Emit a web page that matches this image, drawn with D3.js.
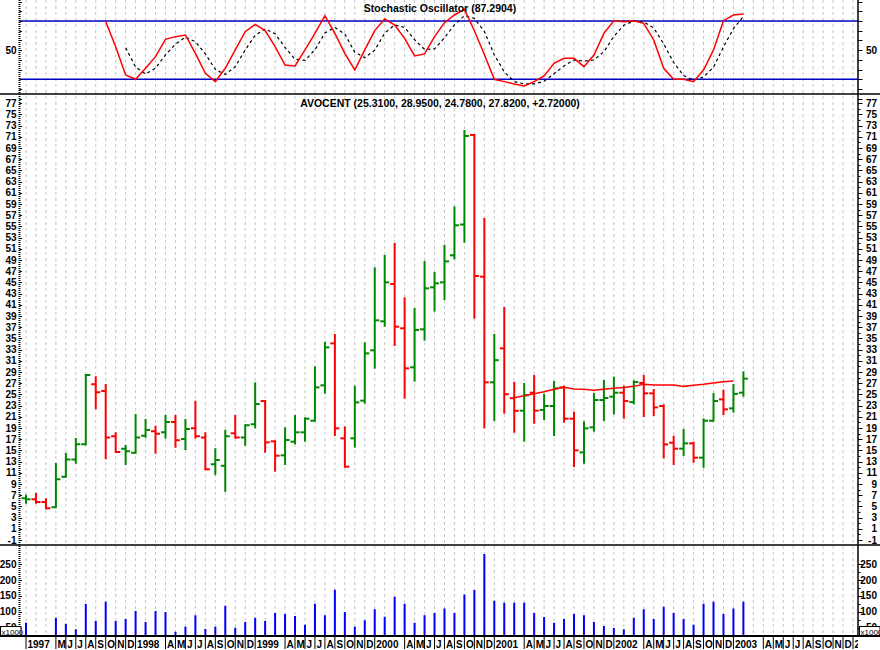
<!DOCTYPE html>
<html>
<head>
<meta charset="utf-8">
<script src="https://cdn.jsdelivr.net/npm/d3@7"></script>
<style>
	body { margin: 0; background: #fff; }
	text { font-family: "Liberation Sans", Arial, sans-serif; font-weight: bold; fill: #000; }
</style>
</head>
<body>
<svg width="880" height="650"></svg>
<script>
// monthly bars, Feb 1997 .. Feb 2003
var firstMonth = new Date(1997, 1, 1);
var monthCount = 84; // axis runs on to Jan 2004
var monthLetters = ["J", "F", "M", "A", "M", "J", "J", "A", "S", "O", "N", "D"];

var open = [6.44, 6.26, 5.78, 4.83, 10.31, 13.40, 16.08, 26.80, 25.61, 17.51, 15.31, 14.59, 17.63, 18.41, 18.23, 20.07, 17.04, 18.94, 17.33, 12.51,
	12.27, 18.05, 17.33, 19.66, 23.82, 16.62, 14.12, 16.56, 18.23, 20.31, 26.62, 34.12, 17.16, 17.16, 23.89, 32.88, 38.06, 44.73, 36.81, 29.84,
	36.63, 44.13, 45.02, 49.84, 55.37, 71.33, 46.03, 27.16, 33.23, 24.33, 22.10, 25.31, 22.22, 22.93, 26.26, 20.67, 14.65, 19.12, 24.00, 24.60,
	25.31, 23.64, 27.04, 25.19, 22.93, 16.38, 15.31, 16.26, 13.70, 20.31, 24.12, 22.51, 25.31];
var high = [6.92, 7.21, 6.26, 12.57, 14.36, 17.04, 28.47, 28.05, 26.68, 18.05, 15.79, 21.32, 20.43, 19.24, 21.14, 21.14, 20.43, 23.70, 18.05, 15.19,
	18.52, 21.14, 19.48, 26.98, 23.82, 16.62, 18.94, 21.14, 20.73, 29.84, 34.24, 35.61, 19.12, 26.38, 34.13, 47.52, 49.73, 51.87, 42.17, 40.26,
	48.65, 46.69, 51.54, 58.41, 72.04, 71.33, 56.33, 35.61, 40.43, 27.07, 26.86, 28.29, 24.95, 27.22, 26.38, 21.74, 20.01, 25.07, 27.40, 27.99,
	26.38, 27.34, 28.29, 25.79, 23.05, 17.45, 18.64, 16.38, 20.55, 25.07, 25.67, 26.68, 28.95];
var low = [5.67, 5.67, 4.65, 4.83, 10.31, 12.81, 16.08, 22.51, 13.58, 14.71, 12.57, 14.59, 17.45, 14.59, 17.33, 15.67, 15.25, 17.33, 11.62, 10.78,
	7.81, 17.33, 16.02, 19.12, 14.77, 11.38, 12.57, 16.26, 16.74, 20.31, 25.31, 17.75, 12.09, 15.67, 23.53, 29.78, 37.28, 33.83, 24.42, 27.46,
	34.78, 39.96, 42.05, 49.30, 52.28, 38.71, 19.12, 20.43, 21.74, 18.35, 16.74, 19.95, 20.61, 17.75, 20.13, 12.21, 12.81, 18.52, 20.43, 21.62,
	20.85, 23.41, 21.14, 21.32, 13.76, 12.57, 14.18, 12.99, 12.09, 20.31, 21.50, 21.92, 24.78];
var close = [6.26, 5.78, 4.65, 9.83, 13.40, 16.08, 28.47, 25.37, 17.33, 14.71, 14.83, 17.33, 18.64, 17.99, 20.07, 16.80, 18.82, 17.51, 11.62, 13.29,
	17.51, 17.33, 19.48, 23.29, 16.44, 14.06, 16.86, 18.23, 20.67, 26.26, 33.41, 18.94, 12.09, 23.58, 32.34, 38.24, 45.02, 37.10, 29.66, 36.51,
	43.95, 44.84, 48.77, 55.20, 71.15, 46.15, 27.16, 31.12, 25.04, 22.07, 24.85, 22.10, 22.93, 26.09, 20.67, 15.01, 18.94, 24.00, 24.36, 25.31,
	23.82, 27.22, 25.19, 22.69, 16.08, 15.31, 16.26, 13.70, 20.31, 23.82, 22.34, 25.10, 27.82];
var volume = [65.5, 15, 18, 81.2, 62.3, 44.5, 124.2, 70.8, 131.6, 70.8, 77.1, 102.2, 67.6, 102.2, 99.1, 37.2, 52.9, 88.6, 45.5, 52.9,
	119.0, 49.8, 67.6, 81.2, 70.8, 95.9, 92.8, 86.5, 59.1, 125.3, 88.6, 169.2, 99.1, 52.9, 73.4, 107.9, 83.9, 147.2, 125.3, 65.5,
	88.6, 95.9, 110.0, 95.9, 154.2, 167.9, 281.2, 134.3, 128.1, 128.1, 128.1, 95.9, 83.4, 65.5, 77.1, 92.8, 88.6, 67.6, 54.9, 48.7,
	44.5, 81.1, 107.9, 77.1, 115.5, 95.9, 77.1, 59.1, 125.3, 131.6, 92.8, 110.0, 131.6];

// moving average, drawn from Mar 2001 (bar 49)
var maStart = 49;
var maValues = [24.42, 24.78, 25.13, 25.49, 25.91, 26.26, 25.97, 25.91, 25.73, 25.91, 26.09, 26.26, 26.44, 26.80, 26.68, 26.68, 26.68, 26.44,
	26.62, 26.80, 27.04, 27.28, 27.40];

// stochastic %K from bar 8, %D from bar 10
var kStart = 8;
var stochK = [79.5, 53.6, 24.5, 20.0, 31.3, 43.3, 61.1, 63.9, 65.6, 46.7, 26.2, 17.6, 31.3, 50.2, 69.0, 76.6, 70.1, 53.6, 34.7, 33.7,
	50.2, 67.3, 85.5, 67.3, 46.7, 29.6, 50.2, 70.1, 82.1, 75.9, 62.2, 44.0, 46.1, 63.9, 78.3, 86.2, 92.0, 70.0, 45.5, 20.0,
	17.6, 15.2, 13.1, 17.6, 23.4, 36.5, 41.6, 41.6, 33.0, 45.0, 67.3, 80.3, 79.3, 80.3, 77.6, 60.5, 31.3, 20.0, 20.0, 17.6,
	29.6, 50.2, 80.3, 86.2, 87.29];
var dStart = 10;
var stochD = [52.5, 32.7, 25.3, 31.5, 45.2, 56.1, 63.5, 58.7, 46.2, 30.2, 25.0, 33.0, 50.2, 65.3, 71.9, 66.8, 52.8, 40.7, 39.5, 50.4,
	67.7, 73.4, 66.5, 47.9, 42.2, 50.0, 67.5, 76.0, 73.4, 60.7, 50.8, 51.3, 62.8, 76.1, 85.5, 82.7, 69.2, 45.2, 27.7, 17.6,
	15.3, 15.3, 18.0, 25.8, 33.8, 39.9, 38.7, 39.9, 48.4, 64.2, 75.6, 80.0, 79.1, 72.8, 56.5, 37.3, 23.8, 19.2, 22.4, 32.5,
	53.4, 72.2, 84.6];

var priceTicks = d3.range(-1, 78, 2);
var volTicks = [50, 100, 150, 200, 250];
var stochTicks = d3.range(0, 101, 10);
var stochLevels = [20, 80];

var stochTitle = "Stochastic Oscillator (87.2904)";
var priceTitle = "AVOCENT (25.3100, 28.9500, 24.7800, 27.8200, +2.72000)";

var svg = d3.select("svg"),
    width = +svg.attr("width"),
    axisL = 19.5,
    axisR = 858,
    top1 = 0, bot1 = 94,
    bot2 = 545,
    bot3 = 636;

var green = "#008800", red = "#ff0000";

var x = d3.scalePoint().domain(d3.range(monthCount)).range([26, 853]);
var yStoch = d3.scaleLinear().domain([20, 80]).range([79.3, 21]);
var yPrice = d3.scaleLinear().domain([-1, 77]).range([540, 103.3]);
var yVol = d3.scaleLinear().domain([0, 250]).range([643.5, 564]);

var defs = svg.append("defs");
function clip(id, y0, y1) {
	defs.append("clipPath").attr("id", id)
		.append("rect").attr("x", axisL + 1).attr("y", y0).attr("width", axisR - axisL - 1).attr("height", y1 - y0);
	return "url(#" + id + ")";
}
var clipStoch = clip("c1", top1, bot1),
    clipPrice = clip("c2", bot1, bot2),
    clipVol = clip("c3", bot2, bot3);

// grid
svg.append("g")
	.selectAll("line")
	.data(d3.range(monthCount))
	.enter().append("line")
	.attr("x1", function(d) { return x(d); })
	.attr("x2", function(d) { return x(d); })
	.attr("y1", 0)
	.attr("y2", bot3)
	.attr("stroke", "#c4c4c4")
	.attr("stroke-dasharray", "3,3");

// stochastic panel
var gS = svg.append("g").attr("clip-path", clipStoch);
gS.selectAll("line.level")
	.data(stochLevels)
	.enter().append("line")
	.attr("class", "level")
	.attr("x1", axisL).attr("x2", axisR)
	.attr("y1", function(d) { return yStoch(d); })
	.attr("y2", function(d) { return yStoch(d); })
	.attr("stroke", "#0000c8")
	.attr("stroke-width", 1.5);

gS.append("path")
	.datum(stochD)
	.attr("fill", "none")
	.attr("stroke", "#000")
	.attr("stroke-width", 1.2)
	.attr("stroke-dasharray", "3,3")
	.attr("d", d3.line()
		.x(function(d, i) { return x(i + dStart); })
		.y(function(d) { return yStoch(d); }));

gS.append("path")
	.datum(stochK)
	.attr("fill", "none")
	.attr("stroke", red)
	.attr("stroke-width", 1.5)
	.attr("d", d3.line()
		.x(function(d, i) { return x(i + kStart); })
		.y(function(d) { return yStoch(d); }));

// price panel
var gP = svg.append("g").attr("clip-path", clipPrice);
var bars = gP.selectAll("g.bar")
	.data(close.map(function(c, i) {
		return {i: i, o: open[i], h: high[i], l: low[i], c: c, up: i === 0 || c >= close[i - 1]};
	}))
	.enter().append("g")
	.attr("class", "bar")
	.attr("stroke", function(d) { return d.up ? green : red; })
	.attr("stroke-width", 2);
bars.append("line")
	.attr("x1", function(d) { return x(d.i); })
	.attr("x2", function(d) { return x(d.i); })
	.attr("y1", function(d) { return yPrice(d.h) - 1; })
	.attr("y2", function(d) { return yPrice(d.l) + 1; });
bars.append("line")
	.attr("x1", function(d) { return x(d.i) - 4.5; })
	.attr("x2", function(d) { return x(d.i); })
	.attr("y1", function(d) { return yPrice(d.o); })
	.attr("y2", function(d) { return yPrice(d.o); });
bars.append("line")
	.attr("x1", function(d) { return x(d.i); })
	.attr("x2", function(d) { return x(d.i) + 4.5; })
	.attr("y1", function(d) { return yPrice(d.c); })
	.attr("y2", function(d) { return yPrice(d.c); });

gP.append("path")
	.datum(maValues)
	.attr("fill", "none")
	.attr("stroke", red)
	.attr("stroke-width", 1.5)
	.attr("d", d3.line()
		.x(function(d, i) { return x(i + maStart); })
		.y(function(d) { return yPrice(d); }));

// volume panel
svg.append("g").attr("clip-path", clipVol)
	.selectAll("line")
	.data(volume)
	.enter().append("line")
	.attr("x1", function(d, i) { return x(i); })
	.attr("x2", function(d, i) { return x(i); })
	.attr("y1", yVol(0))
	.attr("y2", function(d) { return yVol(d); })
	.attr("stroke", "#0000ff")
	.attr("stroke-width", 2);

// frame lines
svg.append("line").attr("x1", 0).attr("x2", width).attr("y1", bot1).attr("y2", bot1)
	.attr("stroke", "#000").attr("stroke-width", 1.5);
svg.append("line").attr("x1", 0).attr("x2", width).attr("y1", bot2).attr("y2", bot2)
	.attr("stroke", "#000").attr("stroke-width", 1.5);
svg.append("line").attr("x1", 0).attr("x2", width).attr("y1", bot3).attr("y2", bot3)
	.attr("stroke", "#000").attr("stroke-width", 2);
svg.append("line").attr("x1", axisR).attr("x2", axisR).attr("y1", 0).attr("y2", bot3)
	.attr("stroke", "#000").attr("stroke-width", 1.5);
svg.append("line").attr("x1", axisL).attr("x2", axisL).attr("y1", 0).attr("y2", bot3)
	.attr("stroke", "#000").attr("stroke-width", 2).attr("stroke-dasharray", "1,1");

// y axes: ticks both sides, labels both sides
function yAxis(scale, major, minor, labels, fmt) {
	var g = svg.append("g");
	g.selectAll("line.mi").data(minor).enter().append("line")
		.attr("x1", axisR).attr("x2", axisR + 2.5)
		.attr("y1", function(d) { return Math.round(scale(d)) + 0.5; })
		.attr("y2", function(d) { return Math.round(scale(d)) + 0.5; })
		.attr("stroke", "#000");
	g.selectAll("line.ma").data(major).enter().append("line")
		.attr("x1", axisR).attr("x2", axisR + 4.5)
		.attr("y1", function(d) { return Math.round(scale(d)) + 0.5; })
		.attr("y2", function(d) { return Math.round(scale(d)) + 0.5; })
		.attr("stroke", "#000");
	g.selectAll("line.ml").data(major).enter().append("line")
		.attr("x1", axisL).attr("x2", axisL + 2.5)
		.attr("y1", function(d) { return Math.round(scale(d)) + 0.5; })
		.attr("y2", function(d) { return Math.round(scale(d)) + 0.5; })
		.attr("stroke", "#000");
	g.selectAll("text.l").data(labels).enter().append("text")
		.attr("x", 16.5)
		.attr("y", function(d) { return scale(d); })
		.attr("dy", "0.36em")
		.attr("text-anchor", "end")
		.style("font-size", "10px")
		.text(fmt);
	g.selectAll("text.r").data(labels).enter().append("text")
		.attr("x", 877)
		.attr("y", function(d) { return scale(d); })
		.attr("dy", "0.36em")
		.attr("text-anchor", "end")
		.style("font-size", "10px")
		.text(fmt);
}
yAxis(yStoch, stochTicks, [], [50], String);
yAxis(yPrice, priceTicks, d3.range(-1, 78, 1), priceTicks, String);
yAxis(yVol, volTicks, d3.range(25, 275, 25), volTicks, String);

// x1000 boxes
[[0, 626.5], [859, 626.5]].forEach(function(p) {
	svg.append("rect").attr("x", p[0] + 0.5).attr("y", p[1]).attr("width", 20.5).attr("height", 9)
		.attr("fill", "#fff").attr("stroke", "#000");
	svg.append("text").attr("x", p[0] + 1.5).attr("y", p[1] + 8)
		.style("font-size", "8px").style("font-weight", "normal")
		.text("x1000");
});

// x axis labels, skipped where they would run into the previous one
var gx = svg.append("g").attr("clip-path", "url(#cx)");
defs.append("clipPath").attr("id", "cx").append("rect")
	.attr("x", 0).attr("y", bot3).attr("width", axisR).attr("height", 14);
var lastEnd = -1;
d3.range(monthCount).forEach(function(j) {
	var m = d3.timeMonth.offset(firstMonth, j);
	var label = (m.getMonth() === 0 || j === 0) ? String(m.getFullYear()) : monthLetters[m.getMonth()];
	var px = x(j);
	if (px < lastEnd) return;
	gx.append("line").attr("x1", px).attr("x2", px).attr("y1", bot3).attr("y2", 649)
		.attr("stroke", "#000");
	var t = gx.append("text").attr("x", px + 1.5).attr("y", 647.5)
		.style("font-size", "10px").text(label);
	lastEnd = px + 1.5 + t.node().getComputedTextLength() - 1.5;
});

// titles
svg.append("text").attr("x", 440).attr("y", 12).attr("text-anchor", "middle")
	.style("font-size", "10.5px").text(stochTitle);
svg.append("text").attr("x", 440).attr("y", 107).attr("text-anchor", "middle")
	.style("font-size", "10.5px").text(priceTitle);
</script>
</body>
</html>
